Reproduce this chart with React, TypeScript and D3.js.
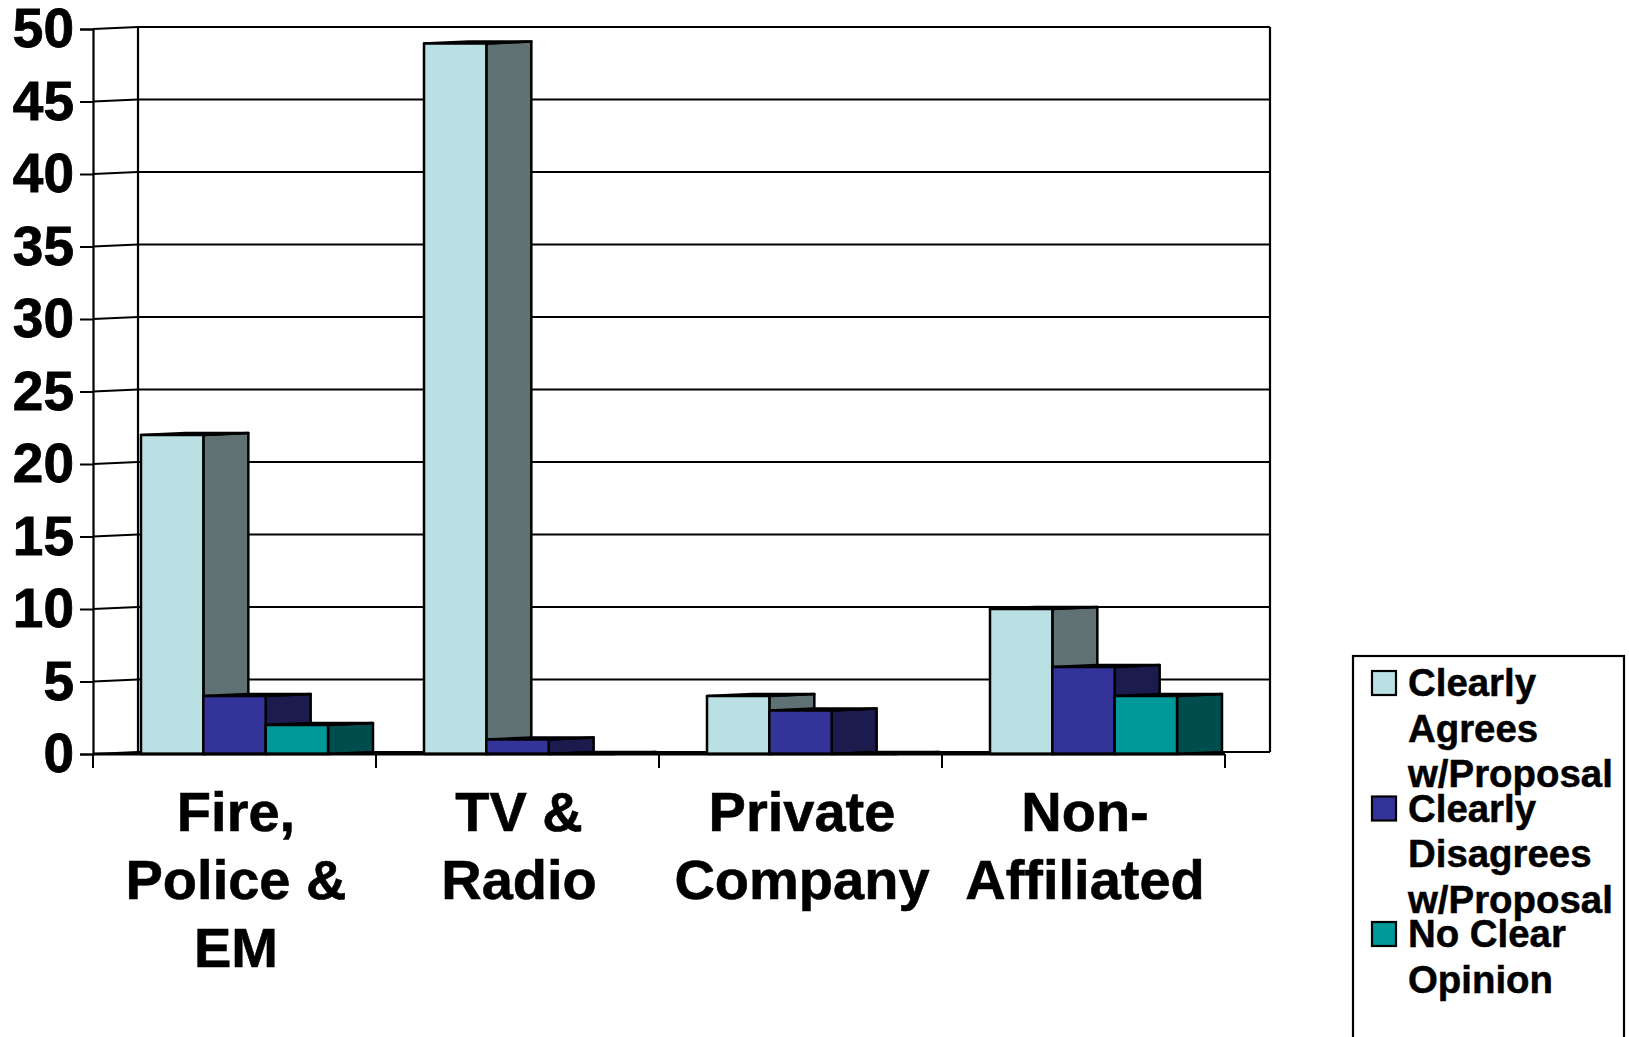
import * as d3 from "d3";
import { useEffect, useRef } from "react";

const categories = ["Fire, Police & EM", "TV & Radio", "Private Company", "Non-Affiliated"];
const categoryLines = [["Fire,", "Police &", "EM"], ["TV &", "Radio"], ["Private", "Company"], ["Non-", "Affiliated"]];
const series = ["Clearly Agrees w/Proposal", "Clearly Disagrees w/Proposal", "No Clear Opinion"];
const legendLines = [["Clearly", "Agrees", "w/Proposal"], ["Clearly", "Disagrees", "w/Proposal"], ["No Clear", "Opinion"]];
const agrees = [22, 49, 4, 10];
const disagrees = [4, 1, 3, 6];
const noOpinion = [2, 0, 0, 4];
const yTicks = [0, 5, 10, 15, 20, 25, 30, 35, 40, 45, 50];
const frontColors = ["#bae0e3", "#333399", "#009999"];
const sideColors = ["#5f7173", "#1b1b4d", "#004d4d"];

const FONT = "'Liberation Sans', Arial, sans-serif";

export default function App() {
  const ref = useRef<SVGSVGElement>(null);

  useEffect(() => {
    const svg = d3.select(ref.current);
    svg.selectAll("*").remove();

    const left = 93;
    const right = 1225;
    const top = 29;
    const bottom = 754;
    const depthX = 45;
    const depthY = 2;

    const y = d3.scaleLinear().domain([0, 50]).range([bottom, top]);
    const x = d3.scaleBand().domain(categories).range([left, right]);
    const inner = d3.scaleBand().domain(series).range([0, x.bandwidth()]).paddingInner(0).paddingOuter(0.77);
    const values = [agrees, disagrees, noOpinion];

    // walls and grid
    const grid = svg.append("g").attr("fill", "none").attr("stroke", "#000").attr("stroke-width", 2.2);
    yTicks.forEach((t) => {
      const line = d3.line();
      grid.append("path").attr("d", line([
        [left, y(t)],
        [left + depthX, y(t) - depthY],
        [right + depthX, y(t) - depthY],
      ]));
    });
    grid.append("line").attr("x1", left + depthX).attr("x2", left + depthX).attr("y1", y(50) - depthY).attr("y2", y(0) - depthY);
    grid.append("line").attr("x1", right + depthX).attr("x2", right + depthX).attr("y1", y(50) - depthY).attr("y2", y(0) - depthY);

    // bars
    const barsG = svg.append("g").attr("stroke", "#000").attr("stroke-width", 2.5).attr("stroke-linejoin", "round");
    categories.forEach((c, ci) => {
      series.forEach((s, si) => {
        const x0 = x(c)! + inner(s)!;
        const x1 = x0 + inner.bandwidth();
        const y0 = y(0);
        const y1 = y(values[si][ci]);
        const line = d3.line();
        barsG.append("path").attr("fill", sideColors[si]).attr("d", line([
          [x1, y1], [x1 + depthX, y1 - depthY], [x1 + depthX, y0 - depthY], [x1, y0],
        ]) + "Z");
        barsG.append("path").attr("fill", sideColors[si]).attr("d", line([
          [x0, y1], [x0 + depthX, y1 - depthY], [x1 + depthX, y1 - depthY], [x1, y1],
        ]) + "Z");
        barsG.append("rect").attr("x", x0).attr("y", y1).attr("width", x1 - x0).attr("height", y0 - y1).attr("fill", frontColors[si]);
      });
    });

    // front floor edge
    svg.append("line").attr("x1", left).attr("x2", right).attr("y1", y(0)).attr("y2", y(0)).attr("stroke", "#000").attr("stroke-width", 3);

    // y axis
    const yAxis = d3.axisLeft(y).tickValues(yTicks).tickSize(13).tickPadding(6).tickFormat(d3.format("d"));
    const yG = svg.append("g").attr("transform", `translate(${left},0)`).call(yAxis);
    yG.select(".domain").attr("stroke", "#000").attr("stroke-width", 2.2);
    yG.selectAll(".tick line").attr("stroke", "#000").attr("stroke-width", 2);
    yG.selectAll("text").attr("font-family", FONT).attr("font-weight", 700).attr("font-size", 55).attr("fill", "#000")
      .attr("stroke", "#000").attr("stroke-width", 0.8);

    // category ticks
    const boundaries = [...categories.map((c) => x(c)!), right];
    svg.append("g").selectAll("line").data(boundaries).join("line")
      .attr("x1", (d) => d).attr("x2", (d) => d).attr("y1", bottom).attr("y2", bottom + 14)
      .attr("stroke", "#000").attr("stroke-width", 2);

    // category labels
    const labels = svg.append("g").attr("font-family", FONT).attr("font-weight", 700).attr("font-size", 56).attr("text-anchor", "middle").attr("fill", "#000")
      .attr("stroke", "#000").attr("stroke-width", 0.6);
    categories.forEach((c, ci) => {
      categoryLines[ci].forEach((t, li) => {
        labels.append("text").attr("x", x(c)! + x.bandwidth() / 2 + 1.5).attr("y", 831 + li * 68).text(t);
      });
    });

    // legend
    const legend = svg.append("g");
    legend.append("rect").attr("x", 1353).attr("y", 656).attr("width", 271).attr("height", 420).attr("fill", "#fff").attr("stroke", "#000").attr("stroke-width", 2.2);
    series.forEach((s, si) => {
      const rowY = 671 + si * 125.5;
      legend.append("rect").attr("x", 1372).attr("y", rowY).attr("width", 24).attr("height", 24).attr("fill", frontColors[si]).attr("stroke", "#000").attr("stroke-width", 2.2);
      legendLines[si].forEach((t, li) => {
        legend.append("text").attr("x", 1408).attr("y", rowY + 25 + li * 45.5)
          .attr("font-family", FONT).attr("font-weight", 700).attr("font-size", 38.4).attr("fill", "#000")
          .attr("stroke", "#000").attr("stroke-width", 0.5).text(t);
      });
    });
  }, []);

  return <svg ref={ref} width={1629} height={1037} style={{ position: "absolute", left: 0, top: 0, background: "#fff" }} />;
}
